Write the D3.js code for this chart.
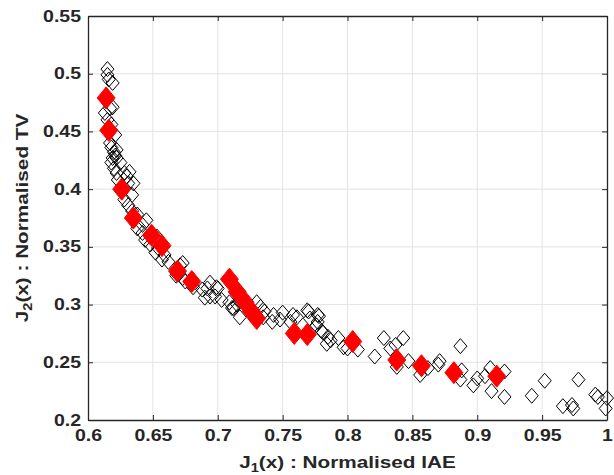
<!DOCTYPE html>
<html>
<head>
<meta charset="utf-8">
<script src="https://cdn.jsdelivr.net/npm/d3@7/dist/d3.min.js"></script>
<style>
	body { margin: 0; background: #fff; }
	svg text { font-family: "Liberation Sans", Arial, sans-serif; font-weight: bold; fill: #262626; }
</style>
</head>
<body>
<svg id="chart" width="614" height="475"></svg>
<script>
// Tick values shown on the axes
const xTicks = [0.6, 0.65, 0.7, 0.75, 0.8, 0.85, 0.9, 0.95, 1]
const yTicks = [0.2, 0.25, 0.3, 0.35, 0.4, 0.45, 0.5, 0.55]

// Whole population (open black diamonds)
const populationJ1 = [
	0.615, 0.615, 0.619, 0.616, 0.619, 0.617, 0.613, 0.615, 0.618, 0.621,
	0.617, 0.618, 0.620, 0.622, 0.619, 0.622, 0.618, 0.622, 0.623, 0.632,
	0.635, 0.630, 0.628, 0.631, 0.634, 0.625, 0.628, 0.631, 0.634, 0.638,
	0.645, 0.642, 0.638, 0.642, 0.621, 0.620, 0.653, 0.644, 0.648,
	0.654, 0.652, 0.659, 0.657, 0.662, 0.671, 0.669, 0.673, 0.673, 0.668,
	0.675, 0.694, 0.692, 0.699, 0.688, 0.698, 0.694, 0.711, 0.681, 0.690,
	0.709, 0.700, 0.703, 0.712, 0.715, 0.730, 0.717, 0.733, 0.736, 0.735,
	0.743, 0.742, 0.748, 0.750, 0.756, 0.761, 0.758, 0.769, 0.777, 0.771,
	0.777, 0.781, 0.785, 0.787, 0.793, 0.797, 0.800, 0.808, 0.770, 0.778,
	0.776, 0.780, 0.784, 0.828, 0.821, 0.833, 0.837, 0.843, 0.838, 0.847,
	0.856, 0.862, 0.870, 0.871, 0.887, 0.888, 0.887, 0.897, 0.900, 0.906,
	0.910, 0.911, 0.921, 0.921, 0.942, 0.952, 0.966, 0.973, 0.974, 0.978,
	0.991, 0.993, 1.000, 0.999
]
const populationJ2 = [
	0.504, 0.499, 0.492, 0.495, 0.471, 0.470, 0.466, 0.460, 0.456, 0.447,
	0.440, 0.436, 0.432, 0.434, 0.427, 0.427, 0.423, 0.414, 0.408, 0.415,
	0.405, 0.411, 0.391, 0.386, 0.381, 0.423, 0.414, 0.405, 0.395, 0.378,
	0.373, 0.369, 0.366, 0.362, 0.429, 0.418, 0.359, 0.356, 0.352,
	0.349, 0.345, 0.343, 0.339, 0.337, 0.334, 0.326, 0.323, 0.336, 0.325,
	0.320, 0.319, 0.314, 0.315, 0.313, 0.307, 0.307, 0.297, 0.315, 0.306,
	0.302, 0.314, 0.304, 0.297, 0.300, 0.302, 0.289, 0.298, 0.294, 0.289,
	0.291, 0.285, 0.287, 0.293, 0.285, 0.289, 0.291, 0.295, 0.291, 0.288,
	0.285, 0.276, 0.272, 0.269, 0.271, 0.263, 0.262, 0.261, 0.294, 0.290,
	0.282, 0.277, 0.266, 0.271, 0.255, 0.262, 0.265, 0.271, 0.246, 0.251,
	0.239, 0.245, 0.248, 0.251, 0.264, 0.243, 0.235, 0.230, 0.236, 0.238,
	0.245, 0.225, 0.242, 0.220, 0.221, 0.234, 0.212, 0.213, 0.210, 0.235,
	0.222, 0.220, 0.219, 0.210
]

// Selected solutions (filled red diamonds)
const selectedJ1 = [
	0.614, 0.616, 0.626, 0.635, 0.649, 0.657, 0.669, 0.680, 0.709, 0.715,
	0.721, 0.726, 0.730, 0.759, 0.769, 0.804, 0.838, 0.857, 0.882, 0.915
]
const selectedJ2 = [
	0.479, 0.451, 0.400, 0.375, 0.360, 0.351, 0.329, 0.320, 0.322, 0.311,
	0.302, 0.294, 0.288, 0.275, 0.274, 0.268, 0.252, 0.247, 0.241, 0.238
]

const svg = d3.select("#chart")
const margin = { top: 16, right: 7, bottom: 55, left: 88 }
const width = 614, height = 475
// the reference font is noticeably wider than Liberation Sans, stretch it
const stretch = 1.22

let x = d3.scaleLinear()
	.domain([0.6, 1])
	.range([margin.left, width - margin.right])
let y = d3.scaleLinear()
	.domain([0.2, 0.55])
	.range([height - margin.bottom, margin.top])

let fmt = d => d3.format("")(+d.toFixed(2))

// Grid lines
svg.append("g")
	.selectAll("line")
	.data(xTicks.slice(1, -1))
	.join("line")
	.attr("x1", d => x(d)).attr("x2", d => x(d))
	.attr("y1", y(0.2)).attr("y2", y(0.55))
	.attr("stroke", "#e3e3e3")
svg.append("g")
	.selectAll("line")
	.data(yTicks.slice(1, -1))
	.join("line")
	.attr("x1", x(0.6)).attr("x2", x(1))
	.attr("y1", d => y(d)).attr("y2", d => y(d))
	.attr("stroke", "#e3e3e3")

// Diamond path generator
function diamond(hw, hh) {
	return `M0,${-hh}L${hw},0L0,${hh}L${-hw},0Z`
}

// Population markers
svg.append("g")
	.selectAll("path")
	.data(populationJ1.map((v, i) => [v, populationJ2[i]]))
	.join("path")
	.attr("transform", d => `translate(${x(d[0])},${y(d[1])})`)
	.attr("d", diamond(6.5, 7.5))
	.attr("fill", "none")
	.attr("stroke", "#000")
	.attr("stroke-width", 1)

// Selected markers
svg.append("g")
	.selectAll("path")
	.data(selectedJ1.map((v, i) => [v, selectedJ2[i]]))
	.join("path")
	.attr("transform", d => `translate(${x(d[0])},${y(d[1])})`)
	.attr("d", diamond(9, 11))
	.attr("fill", "#ff0000")
	.attr("stroke", "#ff0000")

// Axes (MATLAB style box with inward ticks)
let axisColor = "#262626"
let xAxis = svg.append("g")
	.attr("transform", `translate(0,${y(0.2)})`)
	.call(d3.axisBottom(x).tickValues(xTicks).tickSizeInner(-5).tickSizeOuter(0).tickPadding(10).tickFormat(fmt))
let xTop = svg.append("g")
	.attr("transform", `translate(0,${y(0.55)})`)
	.call(d3.axisTop(x).tickValues(xTicks).tickSizeInner(-5).tickSizeOuter(0).tickFormat(""))
let yAxis = svg.append("g")
	.attr("transform", `translate(${x(0.6)},0)`)
	.call(d3.axisLeft(y).tickValues(yTicks).tickSizeInner(-5).tickSizeOuter(0).tickPadding(7).tickFormat(fmt))
let yRight = svg.append("g")
	.attr("transform", `translate(${x(1)},0)`)
	.call(d3.axisRight(y).tickValues(yTicks).tickSizeInner(-5).tickSizeOuter(0).tickFormat(""))

;[xAxis, xTop, yAxis, yRight].forEach(g => {
	g.selectAll("path").attr("stroke", axisColor).attr("stroke-width", 1.3)
	g.selectAll("line").attr("stroke", axisColor)
	g.selectAll("text").attr("font-size", 16).attr("fill", axisColor)
		.attr("font-family", "Liberation Sans, Arial, sans-serif")
})
// widen tick labels, keeping their anchor point
yAxis.selectAll("text")
	.attr("x", -7 / stretch)
	.attr("transform", `scale(${stretch},1)`)
xAxis.selectAll("text")
	.attr("transform", `scale(${stretch},1)`)

// Axis labels
let xl = svg.append("text")
	.attr("transform", `translate(${(x(0.6) + x(1)) / 2},468) scale(${stretch},1)`)
	.attr("text-anchor", "middle")
	.attr("font-size", 17)
xl.append("tspan").text("J")
xl.append("tspan").attr("dy", 4).attr("font-size", 12).text("1")
xl.append("tspan").attr("dy", -4).text("(x) : Normalised IAE")

let yl = svg.append("text")
	.attr("transform", `translate(28,${(y(0.2) + y(0.55)) / 2}) rotate(-90) scale(${stretch},1)`)
	.attr("text-anchor", "middle")
	.attr("font-size", 17)
yl.append("tspan").text("J")
yl.append("tspan").attr("dy", 4).attr("font-size", 12).text("2")
yl.append("tspan").attr("dy", -4).text("(x) : Normalised TV")
</script>
</body>
</html>
